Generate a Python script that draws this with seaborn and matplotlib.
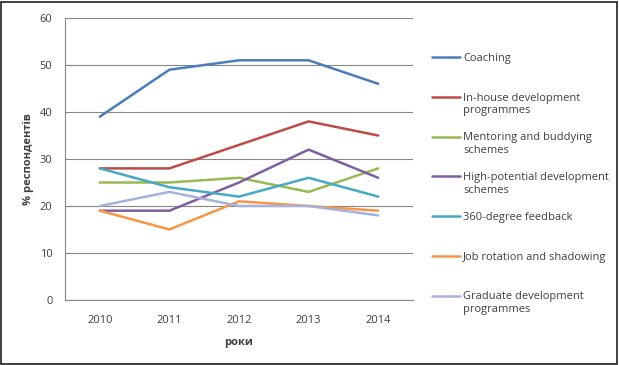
import pandas as pd
import numpy as np

import matplotlib.pyplot as plt
import seaborn as sns
from matplotlib.legend_handler import HandlerLine2D

years = ['2010', '2011', '2012', '2013', '2014']
series_names = ['Coaching',
                'In-house development\nprogrammes',
                'Mentoring and buddying\nschemes',
                'High-potential development\nschemes',
                '360-degree feedback',
                'Job rotation and shadowing',
                'Graduate development\nprogrammes']
coaching = [39, 49, 51, 51, 46]
in_house = [28, 28, 33, 38, 35]
mentoring = [25, 25, 26, 23, 28]
high_potential = [19, 19, 25, 32, 26]
feedback_360 = [28, 24, 22, 26, 22]
job_rotation = [19, 15, 21, 20, 19]
graduate = [20, 23, 20, 20, 18]

colors = ['#4A7EBB', '#BE4B48', '#98B954', '#7D60A0', '#46AAC5', '#F79646', '#A5B2DE']

values = [coaching, in_house, mentoring, high_potential, feedback_360, job_rotation, graduate]
df = pd.DataFrame([
    {'year': y, 'series': name, 'value': v}
    for name, vals in zip(series_names, values)
    for y, v in zip(years, vals)
])
df['x'] = df['year'].map({y: i for i, y in enumerate(years)})

sns.set_style('white')
plt.rcParams['font.family'] = ['Open Sans', 'DejaVu Sans']
FS = 8


class TopLine(HandlerLine2D):
    # excel style: legend line sits next to the first line of the label
    def create_artists(self, legend, orig_handle, xdescent, ydescent, width, height, fontsize, trans):
        arts = super().create_artists(legend, orig_handle, xdescent, ydescent, width, height, fontsize, trans)
        shift = fontsize * 1.36 / 2
        for a in arts:
            a.set_ydata(np.asarray(a.get_ydata()) + shift)
        return arts


fig = plt.figure(figsize=(6.19, 3.65), dpi=100)
ax = fig.add_axes([65 / 619, 1 - 300 / 365, 348 / 619, 282 / 365])

sns.lineplot(data=df, x='x', y='value', hue='series', hue_order=series_names,
             palette=colors, linewidth=1.8, ax=ax, legend=False, sort=False)

ax.set_xlim(-0.5, 4.5)
ax.set_ylim(0, 60)
ax.set_yticks(range(0, 61, 10))
ax.set_xticks(range(len(years)))
ax.set_xticklabels(years)
ax.set_xticks(np.arange(-0.5, 4.6, 1), minor=True)
ax.tick_params(axis='x', which='major', length=0, labelsize=FS, colors='#404040', pad=11)
ax.tick_params(axis='x', which='minor', length=3, color='#868686', direction='out')
ax.tick_params(axis='y', length=3, labelsize=FS, colors='#404040', color='#868686', direction='out', pad=6)
ax.grid(axis='y', color='#868686', linewidth=0.8)
ax.set_axisbelow(True)
for side in ['top', 'right']:
    ax.spines[side].set_visible(False)
for side in ['left', 'bottom']:
    ax.spines[side].set_color('#868686')
    ax.spines[side].set_linewidth(0.8)

ax.set_xlabel('роки', fontsize=FS, fontweight='bold', color='#404040', labelpad=8)
ax.set_ylabel('% респондентів', fontsize=FS, fontweight='bold', color='#404040', labelpad=4)

# pad one-line labels so every entry takes the same height
labels = [n if '\n' in n else n + '\n ' for n in series_names]
handles = [plt.Line2D([], [], color=c, linewidth=1.8) for c in colors]
fig.legend(handles, labels, loc='upper left', bbox_to_anchor=(422 / 619, 1 - 43 / 365),
           frameon=False, fontsize=FS, handlelength=2.5, handletextpad=0.3,
           labelspacing=1.45, labelcolor='#404040',
           handler_map={plt.Line2D: TopLine()})

fig.patches.append(plt.Rectangle((0.002, 0.004), 0.994, 0.99, transform=fig.transFigure,
                                 fill=False, edgecolor='#202020', linewidth=1.2))

plt.savefig('out.png', dpi=100)
